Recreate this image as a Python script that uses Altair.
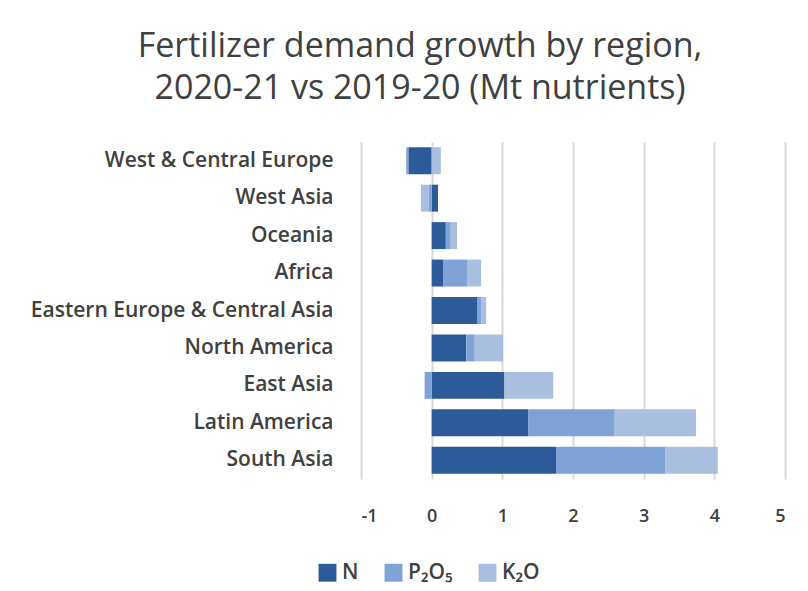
import altair as alt
import pandas as pd

regions = ["West & Central Europe", "West Asia", "Oceania", "Africa",
           "Eastern Europe & Central Asia", "North America", "East Asia",
           "Latin America", "South Asia"]
nutrients = ["N", "P₂O₅", "K₂O"]
n_vals = [-0.33, 0.09, 0.20, 0.16, 0.65, 0.49, 1.03, 1.37, 1.76]
p_vals = [-0.03, -0.04, 0.07, 0.34, 0.05, 0.12, -0.10, 1.22, 1.55]
k_vals = [0.13, -0.11, 0.09, 0.20, 0.07, 0.40, 0.69, 1.15, 0.74]
colors = ["#2D5B9A", "#7FA3D6", "#A8BFE0"]
x_ticks = [-1, 0, 1, 2, 3, 4, 5]

rows = []
for series, vals in zip(nutrients, [n_vals, p_vals, k_vals]):
    for i, (r, v) in enumerate(zip(regions, vals)):
        rows.append({"region": r, "nutrient": series, "value": v,
                     "ord": nutrients.index(series)})
df = pd.DataFrame(rows)

FONT = "Open Sans"
TXT = "#404040"

chart = alt.Chart(df).mark_bar().encode(
    y=alt.Y("region:N", sort=regions, title=None,
            scale=alt.Scale(paddingInner=0.28, paddingOuter=0.14),
            axis=alt.Axis(labelFont=FONT, labelFontSize=21, labelColor=TXT,
                          labelFontWeight=600,
                          labelPadding=28, ticks=False, domain=False,
                          grid=False, labelLimit=400)),
    x=alt.X("value:Q", stack="zero", title=None,
            scale=alt.Scale(domain=[-1, 5], nice=False),
            axis=alt.Axis(values=x_ticks, labelExpr="'' + datum.value",
                          labelFont=FONT,
                          labelFontSize=18, labelColor=TXT, labelPadding=28,
                          labelFontWeight=600,
                          ticks=False, domain=False, gridColor="#D9D9D9",
                          gridWidth=2)),
    color=alt.Color("nutrient:N",
                    scale=alt.Scale(domain=nutrients, range=colors),
                    legend=alt.Legend(orient="none", direction="horizontal",
                                      legendX=-44, legendY=420, title=None,
                                      symbolType="square", symbolSize=320,
                                      symbolStrokeWidth=0,
                                      labelFont=FONT, labelFontSize=21,
                                      labelFontWeight=600,
                                      labelColor=TXT, columnPadding=24,
                                      labelOffset=4)),
    order=alt.Order("ord:Q"),
).properties(
    width=424, height=337,
    title=alt.TitleParams(
        text=["Fertilizer demand growth by region,",
              "2020-21 vs 2019-20 (Mt nutrients)"],
        font=FONT, fontSize=34, fontWeight=500, color=TXT,
        lineHeight=42, anchor="middle", dx=-153, offset=36),
    autosize=alt.AutoSizeParams(type="none"),
    padding={"left": 353, "top": 134, "right": 15, "bottom": 108},
).configure_view(stroke=None)

chart.save("out.html", embed_options={"renderer": "svg", "actions": False})
